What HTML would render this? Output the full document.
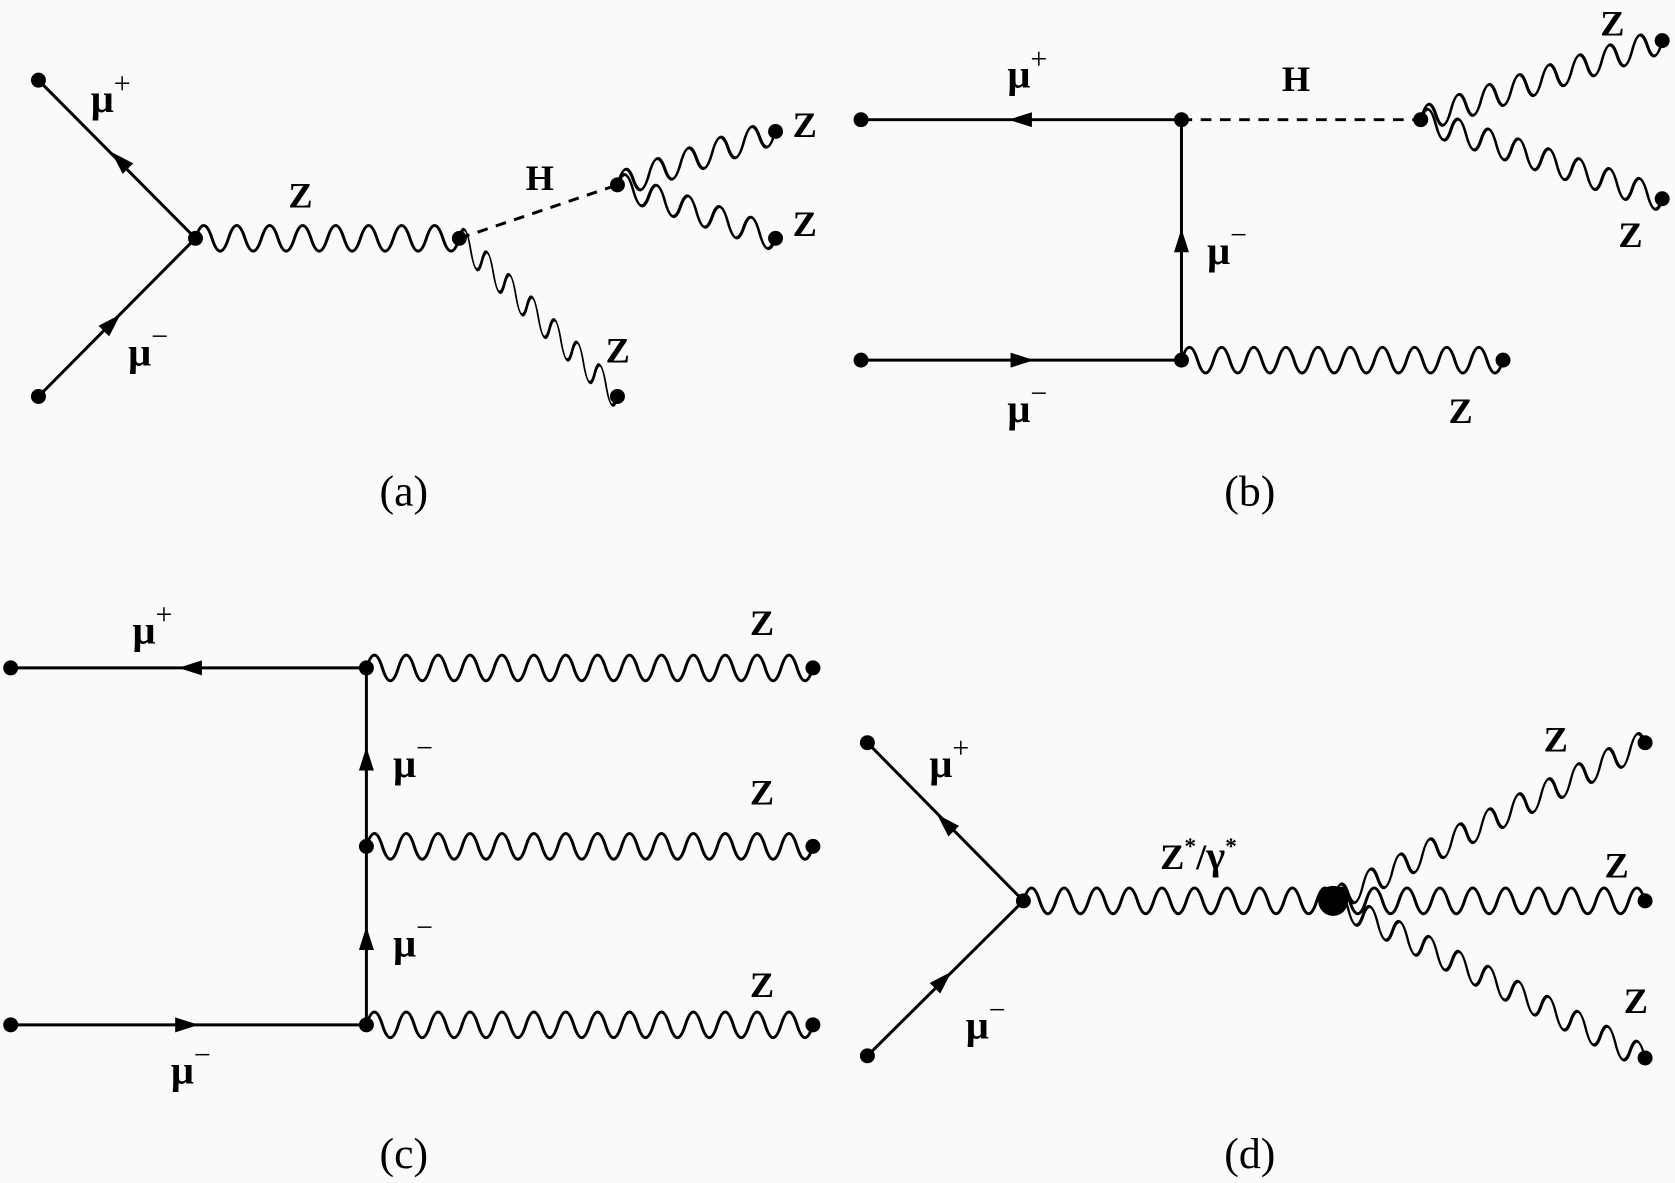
<!DOCTYPE html>
<html><head><meta charset="utf-8"><style>
html,body{margin:0;padding:0;background:#fafafa;}
svg{display:block;}
text{font-family:"Liberation Serif",serif;fill:#000;}
.l{font-weight:bold;font-size:34px;}
.m{font-weight:bold;font-size:38px;}
.c{font-size:41px;}
</style></head><body>
<svg width="1675" height="1183" viewBox="0 0 1568 1107" preserveAspectRatio="none" xmlns="http://www.w3.org/2000/svg">
<rect width="1568" height="1107" fill="#fafafa"/>
<g stroke="#000" stroke-width="2.8" fill="none">
<!-- (a) -->
<line x1="36" y1="75" x2="183" y2="223"/>
<line x1="36" y1="371" x2="183" y2="223"/>
<line x1="430" y1="223" x2="578" y2="173" stroke-dasharray="10,8"/>
<path transform="matrix(1,0,0,1,183,223)" d="M0 0 q7.72 -24 15.44 0 t15.44 0 t15.44 0 t15.44 0 t15.44 0 t15.44 0 t15.44 0 t15.44 0 t15.44 0 t15.44 0 t15.44 0 t15.44 0 t15.44 0 t15.44 0 t15.44 0 t15.44 0"/>
<path transform="matrix(0.7071,0.7071,0,1,430,223)" d="M0 0 q7.47 -26 14.93 0 t14.93 0 t14.93 0 t14.93 0 t14.93 0 t14.93 0 t14.93 0 t14.93 0 t14.93 0 t14.93 0 t14.93 0 t14.93 0 t14.93 0 t14.93 0"/>
<path transform="matrix(0.947,-0.320,0,1,578,173)" d="M0 0 q7.8 -24 15.6 0 t15.6 0 t15.6 0 t15.6 0 t15.6 0 t15.6 0 t15.6 0 t15.6 0 t15.6 0 t15.6 0"/>
<path transform="matrix(0.947,0.320,0,1,578,173)" d="M0 0 q7.8 -24 15.6 0 t15.6 0 t15.6 0 t15.6 0 t15.6 0 t15.6 0 t15.6 0 t15.6 0 t15.6 0 t15.6 0"/>
<!-- (b) -->
<line x1="806" y1="112" x2="1106" y2="112"/>
<line x1="1106" y1="112" x2="1330" y2="112" stroke-dasharray="10,8"/>
<line x1="1106" y1="112" x2="1106" y2="337"/>
<line x1="806" y1="337" x2="1106" y2="337"/>
<path transform="matrix(0.950,-0.311,0,1,1330,112)" d="M0 0 q7.44 -24 14.88 0 t14.88 0 t14.88 0 t14.88 0 t14.88 0 t14.88 0 t14.88 0 t14.88 0 t14.88 0 t14.88 0 t14.88 0 t14.88 0 t14.88 0 t14.88 0 t14.88 0 t14.88 0"/>
<path transform="matrix(0.950,0.311,0,1,1330,112)" d="M0 0 q7.44 -24 14.88 0 t14.88 0 t14.88 0 t14.88 0 t14.88 0 t14.88 0 t14.88 0 t14.88 0 t14.88 0 t14.88 0 t14.88 0 t14.88 0 t14.88 0 t14.88 0 t14.88 0 t14.88 0"/>
<path transform="matrix(1,0,0,1,1106,337)" d="M0 0 q7.52 -24 15.05 0 t15.05 0 t15.05 0 t15.05 0 t15.05 0 t15.05 0 t15.05 0 t15.05 0 t15.05 0 t15.05 0 t15.05 0 t15.05 0 t15.05 0 t15.05 0 t15.05 0 t15.05 0 t15.05 0 t15.05 0 t15.05 0 t15.05 0"/>
<!-- (c) -->
<line x1="10" y1="625" x2="343" y2="625"/>
<line x1="10" y1="959" x2="343" y2="959"/>
<line x1="343" y1="625" x2="343" y2="959"/>
<path transform="matrix(1,0,0,1,343,625)" d="M0 0 q7.46 -24 14.93 0 t14.93 0 t14.93 0 t14.93 0 t14.93 0 t14.93 0 t14.93 0 t14.93 0 t14.93 0 t14.93 0 t14.93 0 t14.93 0 t14.93 0 t14.93 0 t14.93 0 t14.93 0 t14.93 0 t14.93 0 t14.93 0 t14.93 0 t14.93 0 t14.93 0 t14.93 0 t14.93 0 t14.93 0 t14.93 0 t14.93 0 t14.93 0"/>
<path transform="matrix(1,0,0,1,343,792)" d="M0 0 q7.46 -24 14.93 0 t14.93 0 t14.93 0 t14.93 0 t14.93 0 t14.93 0 t14.93 0 t14.93 0 t14.93 0 t14.93 0 t14.93 0 t14.93 0 t14.93 0 t14.93 0 t14.93 0 t14.93 0 t14.93 0 t14.93 0 t14.93 0 t14.93 0 t14.93 0 t14.93 0 t14.93 0 t14.93 0 t14.93 0 t14.93 0 t14.93 0 t14.93 0"/>
<path transform="matrix(1,0,0,1,343,959)" d="M0 0 q7.46 -24 14.93 0 t14.93 0 t14.93 0 t14.93 0 t14.93 0 t14.93 0 t14.93 0 t14.93 0 t14.93 0 t14.93 0 t14.93 0 t14.93 0 t14.93 0 t14.93 0 t14.93 0 t14.93 0 t14.93 0 t14.93 0 t14.93 0 t14.93 0 t14.93 0 t14.93 0 t14.93 0 t14.93 0 t14.93 0 t14.93 0 t14.93 0 t14.93 0"/>
<!-- (d) -->
<line x1="812" y1="695" x2="958" y2="843"/>
<line x1="812" y1="988" x2="958" y2="843"/>
<path transform="matrix(1,0,0,1,958,843)" d="M0 0 q7.63 -24 15.26 0 t15.26 0 t15.26 0 t15.26 0 t15.26 0 t15.26 0 t15.26 0 t15.26 0 t15.26 0 t15.26 0 t15.26 0 t15.26 0 t15.26 0 t15.26 0 t15.26 0 t15.26 0 t15.26 0 t15.26 0 t15.26 0"/>
<path transform="matrix(0.892,-0.452,0,1,1248,843)" d="M0 0 q7.79 -24 15.57 0 t15.57 0 t15.57 0 t15.57 0 t15.57 0 t15.57 0 t15.57 0 t15.57 0 t15.57 0 t15.57 0 t15.57 0 t15.57 0 t15.57 0 t15.57 0 t15.57 0 t15.57 0 t15.57 0 t15.57 0 t15.57 0 t15.57 0 t15.57 0"/>
<path transform="matrix(1,0,0,1,1248,843)" d="M0 0 q7.68 -24 15.37 0 t15.37 0 t15.37 0 t15.37 0 t15.37 0 t15.37 0 t15.37 0 t15.37 0 t15.37 0 t15.37 0 t15.37 0 t15.37 0 t15.37 0 t15.37 0 t15.37 0 t15.37 0 t15.37 0 t15.37 0 t15.37 0"/>
<path transform="matrix(0.893,0.450,0,1,1248,843)" d="M0 0 q7.79 -24 15.57 0 t15.57 0 t15.57 0 t15.57 0 t15.57 0 t15.57 0 t15.57 0 t15.57 0 t15.57 0 t15.57 0 t15.57 0 t15.57 0 t15.57 0 t15.57 0 t15.57 0 t15.57 0 t15.57 0 t15.57 0 t15.57 0 t15.57 0 t15.57 0"/>
</g>
<g fill="#000">
<polygon points="11,0 -11,-7 -11,7" transform="translate(112,150) rotate(-135)"/>
<polygon points="11,0 -11,-7 -11,7" transform="translate(105,302) rotate(-45)"/>
<polygon points="11,0 -11,-7 -11,7" transform="translate(955,112) rotate(180)"/>
<polygon points="11,0 -11,-7 -11,7" transform="translate(1106,225) rotate(-90)"/>
<polygon points="11,0 -11,-7 -11,7" transform="translate(957,337)"/>
<polygon points="11,0 -11,-7 -11,7" transform="translate(178,625) rotate(180)"/>
<polygon points="11,0 -11,-7 -11,7" transform="translate(175,959)"/>
<polygon points="11,0 -11,-7 -11,7" transform="translate(343,710) rotate(-90)"/>
<polygon points="11,0 -11,-7 -11,7" transform="translate(343,878) rotate(-90)"/>
<polygon points="11,0 -11,-7 -11,7" transform="translate(885,770) rotate(-135)"/>
<polygon points="11,0 -11,-7 -11,7" transform="translate(883,917) rotate(-45)"/>
<circle cx="36" cy="75" r="7"/><circle cx="36" cy="371" r="7"/><circle cx="183" cy="223" r="7"/>
<circle cx="430" cy="223" r="7"/><circle cx="578" cy="173" r="7"/><circle cx="578" cy="371" r="7"/>
<circle cx="726" cy="123" r="7"/><circle cx="726" cy="223" r="7"/>
<circle cx="806" cy="112" r="7"/><circle cx="806" cy="337" r="7"/><circle cx="1106" cy="112" r="7"/><circle cx="1106" cy="337" r="7"/>
<circle cx="1330" cy="112" r="7"/><circle cx="1556" cy="38" r="7"/><circle cx="1556" cy="186" r="7"/><circle cx="1407" cy="337" r="7"/>
<circle cx="10" cy="625" r="7"/><circle cx="10" cy="959" r="7"/><circle cx="343" cy="625" r="7"/><circle cx="343" cy="792" r="7"/><circle cx="343" cy="959" r="7"/>
<circle cx="761" cy="625" r="7"/><circle cx="761" cy="792" r="7"/><circle cx="761" cy="959" r="7"/>
<circle cx="812" cy="695" r="7"/><circle cx="812" cy="988" r="7"/><circle cx="958" cy="843" r="7"/>
<circle cx="1248" cy="843" r="14"/><circle cx="1540" cy="695" r="7"/><circle cx="1540" cy="843" r="7"/><circle cx="1540" cy="990" r="7"/>
</g>
<text class="m" x="85" y="105">μ<tspan font-size="28" font-weight="normal" dy="-18">+</tspan></text>
<text class="m" x="120" y="342">μ<tspan font-size="28" font-weight="normal" dy="-18">−</tspan></text>
<text class="l" x="270" y="194">Z</text>
<text class="l" x="492" y="178">H</text>
<text class="l" x="742" y="128">Z</text>
<text class="l" x="742" y="221">Z</text>
<text class="l" x="567" y="339">Z</text>
<text class="m" x="943" y="82">μ<tspan font-size="28" font-weight="normal" dy="-18">+</tspan></text>
<text class="l" x="1200" y="85">H</text>
<text class="m" x="1130" y="247">μ<tspan font-size="28" font-weight="normal" dy="-18">−</tspan></text>
<text class="m" x="943" y="395">μ<tspan font-size="28" font-weight="normal" dy="-18">−</tspan></text>
<text class="l" x="1356" y="396">Z</text>
<text class="l" x="1498" y="33">Z</text>
<text class="l" x="1515" y="231">Z</text>
<text class="m" x="124" y="602">μ<tspan font-size="28" font-weight="normal" dy="-18">+</tspan></text>
<text class="l" x="702" y="594">Z</text>
<text class="m" x="368" y="727">μ<tspan font-size="28" font-weight="normal" dy="-18">−</tspan></text>
<text class="l" x="702" y="753">Z</text>
<text class="m" x="368" y="895">μ<tspan font-size="28" font-weight="normal" dy="-18">−</tspan></text>
<text class="l" x="702" y="933">Z</text>
<text class="m" x="160" y="1014">μ<tspan font-size="28" font-weight="normal" dy="-18">−</tspan></text>
<text class="m" x="870" y="727">μ<tspan font-size="28" font-weight="normal" dy="-18">+</tspan></text>
<text class="m" x="904" y="972">μ<tspan font-size="28" font-weight="normal" dy="-18">−</tspan></text>
<text class="l" x="1086" y="813">Z<tspan font-size="22" dy="-14">*</tspan><tspan dy="14">/</tspan><tspan font-size="38">γ</tspan><tspan font-size="22" dy="-14">*</tspan></text>
<text class="l" x="1445" y="703">Z</text>
<text class="l" x="1502" y="821">Z</text>
<text class="l" x="1520" y="948">Z</text>
<text class="c" x="378" y="473" text-anchor="middle">(a)</text>
<text class="c" x="1170" y="473" text-anchor="middle">(b)</text>
<text class="c" x="378" y="1093" text-anchor="middle">(c)</text>
<text class="c" x="1170" y="1093" text-anchor="middle">(d)</text>
</svg>
</body></html>
